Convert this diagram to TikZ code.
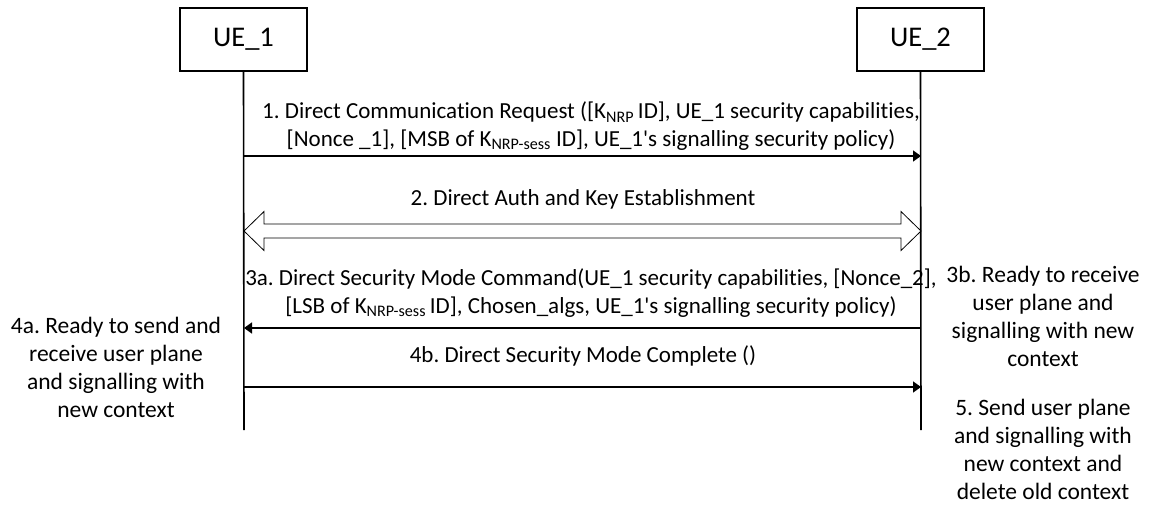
\documentclass[tikz,border=0pt]{standalone}
\usepackage{fontspec}
\setmainfont[Ligatures=NoCommon]{Carlito}
\usetikzlibrary{arrows.meta,calc}
\tikzset{
  actor/.style={draw, line width=1.3pt, minimum width=127pt, minimum height=63pt, inner sep=0pt, font=\fontsize{28.5}{32}\selectfont},
  lifeline/.style={line width=1.6pt},
  msg/.style={inner sep=0pt, align=center, font=\fontsize{23}{27.5}\selectfont},
  note/.style={inner sep=0pt, align=center, font=\fontsize{23.5}{28}\selectfont},
  msgarrow/.style={line width=1.5pt, -{Triangle[length=8pt,width=11pt]}},
  bigarrow/.style={draw, line width=0.8pt, fill=white, line join=miter}
}
\newcommand{\aps}{\textquotesingle}
\frenchspacing
\begin{document}
\begin{tikzpicture}[x=1pt,y=-1pt]
\useasboundingbox (0,0) rectangle (1151,504);
% actors
\node[actor] (ue1) at (243.5,39.5) {UE\_1};
\node[actor] (ue2) at (920.5,39.5) {UE\_2};
\coordinate (ue1end) at (244,430);
\coordinate (ue2end) at (921,430);
\draw[lifeline] (ue1.south) -- (ue1end);
\draw[lifeline] (ue2.south) -- (ue2end);
% message 1
\node[msg] (m1) at (591,126) {1. Direct Communication Request ({[}K\textsubscript{NRP}\,ID], UE\_1 security capabilities,\\ {[}Nonce \_1], [MSB of K\textsubscript{NRP-sess} ID], UE\_1\aps s signalling security policy)};
\coordinate (m1a) at (244,156);
\coordinate (m1b) at (921,156);
\draw[msgarrow] (m1a) -- (m1b);
% message 2
\node[msg] (m2) at (583,199) {2. Direct Auth and Key Establishment};
\coordinate (m2a) at (244,231);
\coordinate (m2b) at (921,231);
\path[bigarrow] (m2a) -- ++(20,-19.5) -- ++(0,12.5) -- ($(m2b)+(-20,-7)$) -- ++(0,-12.5) -- (m2b) -- ++(-20,19.5) -- ++(0,-12.5) -- ($(m2a)+(20,7)$) -- ++(0,12.5) -- cycle;
% message 3a
\node[msg] (m3) at (591,293) {3a. Direct Security Mode Command(UE\_1 security capabilities, {[}Nonce\_2],\\ {[}LSB of K\textsubscript{NRP-sess}\,ID], Chosen\_algs, UE\_1\aps s signalling security policy)};
\coordinate (m3a) at (921,328);
\coordinate (m3b) at (244,328);
\draw[msgarrow] (m3a) -- (m3b);
% message 4b
\node[msg] (m4) at (583,356) {4b. Direct Security Mode Complete ()};
\coordinate (m4a) at (244,387);
\coordinate (m4b) at (921,387);
\draw[msgarrow] (m4a) -- (m4b);
% notes
\node[note] (n4a) at (116,367) {4a. Ready to send and\\ receive user plane\\ and signalling with\\ new context};
\node[note] (n3b) at (1043,316) {3b. Ready to receive\\ user plane and\\ signalling with new\\ context};
\node[note] (n5) at (1043,449) {5. Send user plane\\ and signalling with\\ new context and\\ delete old context};
\end{tikzpicture}
\end{document}
